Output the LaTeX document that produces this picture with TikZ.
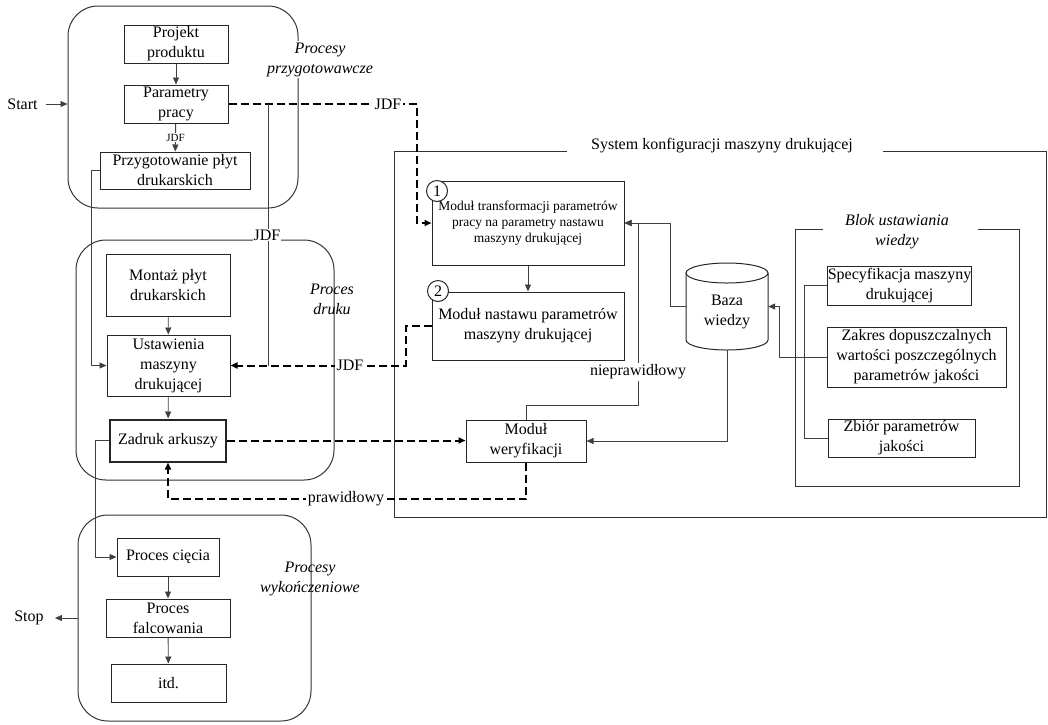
\documentclass[tikz,border=0pt]{standalone}
\usepackage{fontspec}
\setmainfont{Liberation Serif}
\usetikzlibrary{arrows.meta,calc}
\newcommand{\fsN}{\fontsize{16}{20}\selectfont}
\newcommand{\fsS}{\fontsize{13.5}{16}\selectfont}
\newcommand{\fsT}{\fontsize{11}{13}\selectfont}
\begin{document}
\begin{tikzpicture}[x=1pt,y=-1pt,
  box/.style={draw=black!85, line width=1pt, fill=white, align=center, inner sep=0pt, font=\fsN},
  frame/.style={draw=black!80, line width=1pt, rounded corners=30pt, inner sep=0pt},
  ln/.style={draw=black!75, line width=0.9pt},
  arr/.style={-{Triangle[length=7pt,width=6pt]}},
  dl/.style={draw=black, line width=2pt, dash pattern=on 8pt off 4pt},
  lbl/.style={fill=white, inner sep=2pt, font=\fsN},
  flabel/.style={font=\fsN\itshape, align=center, inner sep=2pt},
  circ/.style={circle, draw=black!85, line width=1pt, fill=white, minimum size=21pt, inner sep=0pt, font=\fsN}
]
\useasboundingbox (0,0) rectangle (1048,724);

% frames
\node[frame, minimum width=230pt, minimum height=202pt] (fA) at (183,107) {};
\node[frame, minimum width=258pt, minimum height=240pt] (fB) at (205,360) {};
\node[frame, minimum width=233pt, minimum height=206pt] (fC) at (194.5,618) {};
\draw[draw=black!80, line width=1pt] (567,151) -- (394,151) -- (394,517) -- (1046,517) -- (1046,151) -- (883,151);
\draw[draw=black!80, line width=1pt] (823,229) -- (795,229) -- (795,486) -- (1019,486) -- (1019,229) -- (978,229);

% cylinder
\draw[draw=black!85, line width=1pt] (686,273) -- (686,340) arc[start angle=180, end angle=360, x radius=41pt, y radius=10pt] -- (768,273);
\draw[draw=black!85, line width=1pt] (727,273) ellipse [x radius=41pt, y radius=10pt];
\node[minimum width=82pt, minimum height=87pt, inner sep=0pt] (baza) at (727,306.5) {};
\node[font=\fsN, align=center] (bazat) at (727,312) {Baza\\wiedzy};

% boxes
\node[box, minimum width=104pt, minimum height=38pt] (proj) at (176,44) {Projekt\\produktu};
\node[box, minimum width=104pt, minimum height=38pt] (param) at (176,104) {Parametry\\pracy};
\node[box, minimum width=150pt, minimum height=37pt] (przyg) at (175,170.5) {Przygotowanie płyt\\drukarskich};
\node[box, minimum width=124pt, minimum height=62pt] (montaz) at (168,285) {Montaż płyt\\drukarskich};
\node[box, minimum width=123pt, minimum height=61pt] (ustaw) at (168.5,365.5) {Ustawienia\\maszyny\\drukującej};
\node[box, line width=2pt, minimum width=116pt, minimum height=42pt] (zadruk) at (168,440.5) {Zadruk arkuszy};
\node[box, minimum width=102pt, minimum height=38pt] (ciecie) at (168,557) {Proces cięcia};
\node[box, minimum width=124pt, minimum height=38pt] (falc) at (168,618) {Proces\\falcowania};
\node[box, minimum width=115pt, minimum height=38pt] (itd) at (168.5,683) {itd.};
\node[box, font=\fsS, minimum width=192pt, minimum height=84pt] (mod1) at (528,223) {Moduł transformacji parametrów\\pracy na parametry nastawu\\maszyny drukującej};
\node[box, minimum width=192pt, minimum height=68pt] (mod2) at (528,326) {Moduł nastawu parametrów\\maszyny drukującej};
\node[box, minimum width=120pt, minimum height=42pt] (weryf) at (526,441) {Moduł\\weryfikacji};
\node[box, minimum width=143pt, minimum height=39pt] (spec) at (899.5,285.5) {Specyfikacja maszyny\\drukującej};
\node[box, minimum width=179pt, minimum height=60pt] (zakres) at (916.5,357) {Zakres dopuszczalnych\\wartości poszczególnych\\parametrów jakości};
\node[box, minimum width=147pt, minimum height=38pt] (zbior) at (901.5,438) {Zbiór parametrów\\jakości};

\node[circ] (c1) at (437,191) {1};
\node[circ] (c2) at (438,291) {2};

% start / stop
\node[font=\fsN, inner sep=0pt] (start) at (22.5,104) {Start};
\node[font=\fsN, inner sep=0pt] (stop) at (29,618) {Stop};
\draw[ln,arr] ([xshift=8pt]start.east) -- (start.east -| fA.west);
\draw[ln,arr] (fC.west) -- ([xshift=11pt]stop.east);

% left column connectors
\draw[ln,arr] (proj) -- (param);
\draw[ln,arr] (param) -- (przyg) node[midway, fill=white, inner sep=1pt, font=\fsT] (jdfs) {JDF};
\draw[ln,arr] (przyg.west) -- ++(-8,0) |- (ustaw.west);
\draw[ln,arr] (montaz) -- (ustaw);
\draw[ln,arr] (ustaw) -- (zadruk);
\draw[ln,arr] (zadruk.west) -- ++(-14,0) |- (ciecie.west);
\draw[ln,arr] (ciecie) -- (falc);
\draw[ln,arr] (falc) -- (itd);

% JDF connectors
\coordinate (jd1) at (417,104);
\coordinate (g1) at (268,104);
\draw[dl,arr] (param.east) -- (jd1) |- (mod1.west);
\draw[ln] (g1) -- (g1 |- ustaw.east);
\draw[dl,arr] (mod2.west) -- ++(-26,0) |- (ustaw.east);
\node[lbl] (jdfa) at (388,104) {JDF};
\node[lbl, inner sep=1pt] (jdfb) at (267,235) {JDF};
\node[lbl] (jdfc) at (350,365.5) {JDF};

% system connectors
\draw[ln,arr] (mod1) -- (mod2);
\draw[dl,arr] (zadruk.east) -- (zadruk.east -| weryf.west);
\draw[dl,arr] (weryf.south) -- ++(0,36.5) -| (zadruk.south);
\node[lbl] (praw) at (346,498.5) {prawidłowy};
\draw[ln,arr] (weryf.north) -- ++(0,-14) -| ($(mod1.east)+(14,0)$) -- (mod1.east);
\node[lbl] (niep) at (638,372) {nieprawidłowy};
\draw[ln,arr] (baza.west) -- ++(-15,0) |- (mod1.east);
\draw[ln,arr] (baza.south) |- (weryf.east);
\draw[ln] (spec.west) -- ++(-23,0) |- (zbior.west);
\draw[ln,arr] (zakres.west) -- ++(-47,0) |- (baza.east);

% frame labels
\node[flabel, fill=white] (lA) at (320,59.5) {Procesy\\przygotowawcze};
\node[flabel] (lB) at (332,299.5) {Proces\\druku};
\node[flabel] (lC) at (310,578.5) {Procesy\\wykończeniowe};
\node[font=\fsN] (sys) at (722,146) {System konfiguracji maszyny drukującej};
\node[flabel] (blok) at (897,232) {Blok ustawiania\\wiedzy};
\end{tikzpicture}
\end{document}
